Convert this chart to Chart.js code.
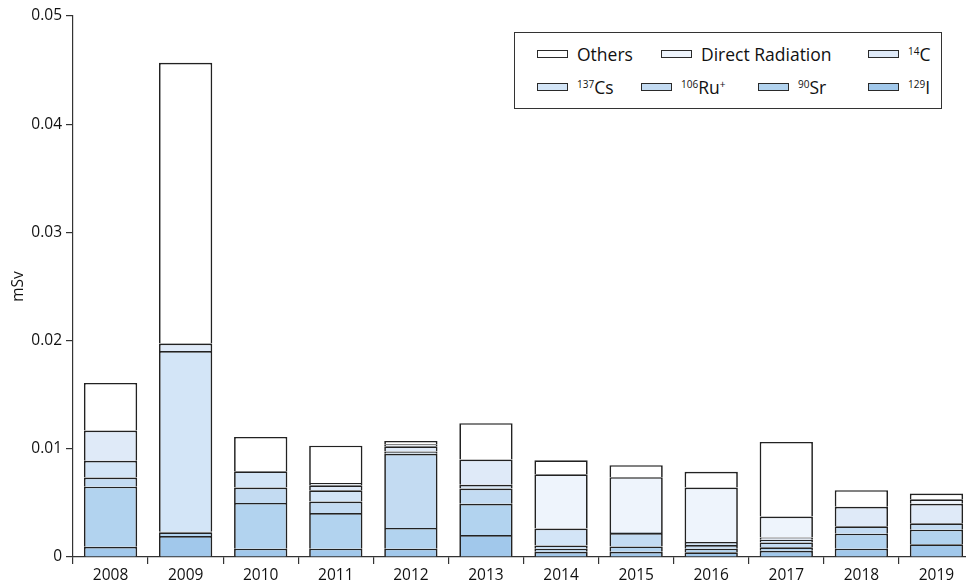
<!DOCTYPE html>
<html>
<head>
<meta charset="utf-8">
<script src="https://cdn.jsdelivr.net/npm/chart.js@4.4.1/dist/chart.umd.min.js"></script>
<style>
  html, body { margin: 0; padding: 0; background: #fff; overflow: hidden; }
  #wrap { position: relative; width: 966px; height: 585px; overflow: hidden; }
  #chart { position: absolute; left: 0; top: 0; }
  #legend {
    position: absolute; left: 514px; top: 32px; width: 428px; height: 77px;
    border: 1px solid #333; background: #fff; box-sizing: border-box;
    font-family: 'Open Sans', sans-serif; font-size: 17.5px; color: #111;
  }
  .item { position: absolute; height: 22px; display: flex; align-items: center; white-space: nowrap; }
  .swatch { width: 31px; height: 8px; border: 1.3px solid #2a2a2a; box-sizing: border-box; margin-right: 9px; }
  .item sup { font-size: 10px; line-height: 0; vertical-align: 6px; }
</style>
</head>
<body>
<div id="wrap">
  <canvas id="chart" width="990" height="585"></canvas>
  <div id="legend"></div>
</div>
<script>
// 연도
const years = ['2008', '2009', '2010', '2011', '2012', '2013', '2014', '2015', '2016', '2017', '2018', '2019'];

// 핵종별 선량 (mSv), 아래에서 위로 쌓임
const i129   = [0.00095, 0.00194, 0.00077, 0.00077, 0.00077, 0.00204, 0.00049, 0.00049, 0.00043, 0.00058, 0.00077, 0.00117];
const sr90   = [0.00555, 0.00034, 0.00423, 0.00330, 0.00192, 0.00287, 0.00028, 0.00049, 0.00034, 0.00031, 0.00139, 0.00136];
const ru106  = [0.00084, 0.00005, 0.00142, 0.00105, 0.00685, 0.00142, 0.00030, 0.00124, 0.00034, 0.00046, 0.00068, 0.00058];
const cs137  = [0.00155, 0.01670, 0.00150, 0.00105, 0.00020, 0.00034, 0.00157, 0.00010, 0.00028, 0.00025, 0, 0];
const c14    = [0.00280, 0.00070, 0, 0.00046, 0.00049, 0.00234, 0, 0, 0, 0.00021, 0.00180, 0.00180];
const direct = [0, 0.00005, 0, 0.00020, 0.00020, 0, 0.00500, 0.00506, 0.00503, 0.00194, 0, 0.00043];
const others = [0.00440, 0.02590, 0.00318, 0.00346, 0.00030, 0.00336, 0.00130, 0.00111, 0.00145, 0.00689, 0.00154, 0.00053];

const seriesLabels = ['<sup>129</sup>I', '<sup>90</sup>Sr', '<sup>106</sup>Ru<sup>+</sup>', '<sup>137</sup>Cs', '<sup>14</sup>C', 'Direct Radiation', 'Others'];
const seriesColors = ['#a1c8eb', '#b2d3ef', '#c3dbf2', '#d3e5f7', '#dfeaf8', '#eef4fc', '#ffffff'];
const seriesData = [i129, sr90, ru106, cs137, c14, direct, others];

const yTicks = [0, 0.01, 0.02, 0.03, 0.04, 0.05];

Chart.defaults.font.family = "'Open Sans', sans-serif";
Chart.defaults.color = '#111';

const datasets = seriesData.map((data, i) => ({
    label: seriesLabels[i].replace(/<[^>]+>/g, ''),
    data: data,
    backgroundColor: seriesColors[i],
    borderColor: '#222',
    borderWidth: 1.7,
    barPercentage: 0.71,
    categoryPercentage: 1
}));

new Chart(document.getElementById('chart'), {
    type: 'bar',
    data: { labels: years, datasets: datasets },
    options: {
        responsive: false,
        animation: false,
        layout: { padding: { top: 16, right: 16, bottom: 0, left: 0 } },
        plugins: {
            legend: { display: false },
            tooltip: { enabled: false }
        },
        scales: {
            x: {
                stacked: true,
                grid: { offset: true, drawOnChartArea: false, tickLength: 7, color: '#333', lineWidth: 1.2 },
                border: { color: '#333', width: 1.2 },
                ticks: { padding: 2, font: { size: 15.5 }, maxRotation: 0, autoSkip: false },
                afterFit: (scale) => { scale.height = 28; }
            },
            y: {
                stacked: true,
                min: yTicks[0],
                max: yTicks[yTicks.length - 1],
                afterBuildTicks: (scale) => { scale.ticks = yTicks.map(v => ({ value: v })); },
                ticks: {
                    padding: 4,
                    font: { size: 15.5 },
                    callback: (v) => v === 0 ? '0' : Number(v).toFixed(2)
                },
                grid: { drawOnChartArea: false, tickLength: 7, color: '#333', lineWidth: 1.2 },
                border: { color: '#333', width: 1.2 },
                title: { display: true, text: 'mSv', font: { size: 15.5 }, padding: { top: 9, bottom: 0 } },
                afterFit: (scale) => { scale.width = 73; }
            }
        }
    }
});

// 범례 (차트 안쪽 오른쪽 위 상자)
const legendEl = document.getElementById('legend');
const legendRows = [[6, 5, 4], [3, 2, 1, 0]];
const legendLeft = [[22, 146, 353], [22, 126, 243, 353]];
legendRows.forEach((row, r) => {
    row.forEach((idx, c) => {
        const item = document.createElement('div');
        item.className = 'item';
        item.style.left = legendLeft[r][c] + 'px';
        item.style.top = (r === 0 ? 10 : 43) + 'px';
        const sw = document.createElement('span');
        sw.className = 'swatch';
        sw.style.background = seriesColors[idx];
        const txt = document.createElement('span');
        txt.innerHTML = seriesLabels[idx];
        item.appendChild(sw);
        item.appendChild(txt);
        legendEl.appendChild(item);
    });
});
</script>
</body>
</html>
